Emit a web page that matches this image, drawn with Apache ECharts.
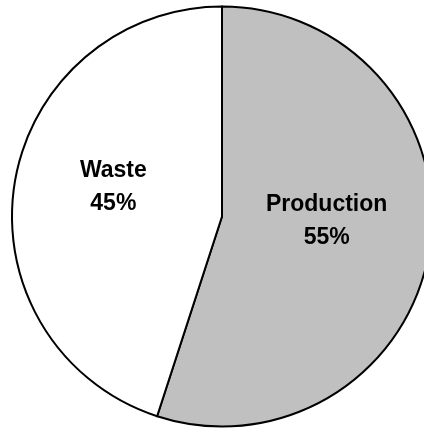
<!DOCTYPE html>
<html>
<head>
<meta charset="utf-8">
<script src="https://cdn.jsdelivr.net/npm/echarts@6/dist/echarts.min.js"></script>
<style>
html,body{margin:0;padding:0;background:#fff;}
#chart{width:424px;height:428px;}
</style>
</head>
<body>
<div id="chart"></div>
<script>
const categories = ["Production", "Waste"];
const values = [55, 45];
const colors = ["#c0c0c0", "#ffffff"];

const chart = echarts.init(document.getElementById('chart'), null, {renderer: 'canvas'});
chart.setOption({
  animation: false,
  backgroundColor: '#ffffff',
  series: [{
    type: 'pie',
    center: [222, 216.5],
    radius: 210,
    startAngle: 90,
    clockwise: true,
    silent: true,
    itemStyle: { borderColor: '#000000', borderWidth: 2 },
    label: {
      position: 'inside',
      formatter: '{b}\n{d}%',
      fontFamily: 'Liberation Sans, Arial, sans-serif',
      fontWeight: 'bold',
      fontSize: 23,
      lineHeight: 33,
      color: '#000000'
    },
    labelLine: { show: false },
    labelLayout: { dx: -2, dy: -12 },
    data: categories.map((c, i) => ({ name: c, value: values[i], itemStyle: { color: colors[i] } }))
  }]
});
</script>
</body>
</html>
